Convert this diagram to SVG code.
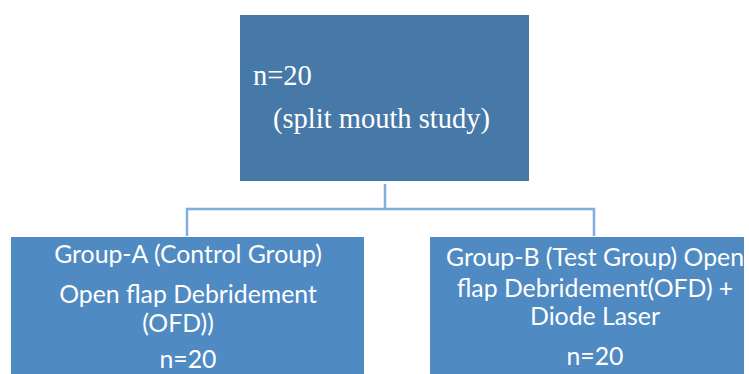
<svg xmlns="http://www.w3.org/2000/svg" width="749" height="374" viewBox="0 0 749 374">
<style>
.top{fill:#4679a8}
.box{fill:#508ac3}
.conn{fill:none;stroke:#7eafe0;stroke-width:2.5}
.tt{font-family:"Liberation Serif","Times New Roman",serif;font-size:28.5px;fill:#fff}
.gt{font-family:Lato,"Liberation Sans",sans-serif;font-size:24.8px;fill:#fff;text-anchor:middle}
</style>
<rect width="749" height="374" fill="#fff"/>
<g id="connectors">
<path class="conn" d="M385,184 V209 M187,236 V209 H594 V236"/>
</g>
<g id="node-top">
<rect class="top" x="240" y="15" width="289" height="166"/>
<text class="tt" x="253" y="85">n=20</text>
<text class="tt" x="273" y="128">(split mouth study)</text>
</g>
<g id="node-a">
<rect class="box" x="11" y="237" width="353" height="140"/>
<text class="gt" x="188" y="263">Group-A (Control Group)</text>
<text class="gt" x="188" y="303">Open flap Debridement</text>
<text class="gt" x="178" y="332">(OFD))</text>
<text class="gt" x="188" y="368">n=20</text>
</g>
<g id="node-b">
<rect class="box" x="430" y="237" width="314" height="140"/>
<text class="gt" x="595" y="266">Group-B (Test Group) Open</text>
<text class="gt" x="595" y="297">flap Debridement(OFD) +</text>
<text class="gt" x="595" y="325">Diode Laser</text>
<text class="gt" x="595" y="365">n=20</text>
</g>
</svg>
